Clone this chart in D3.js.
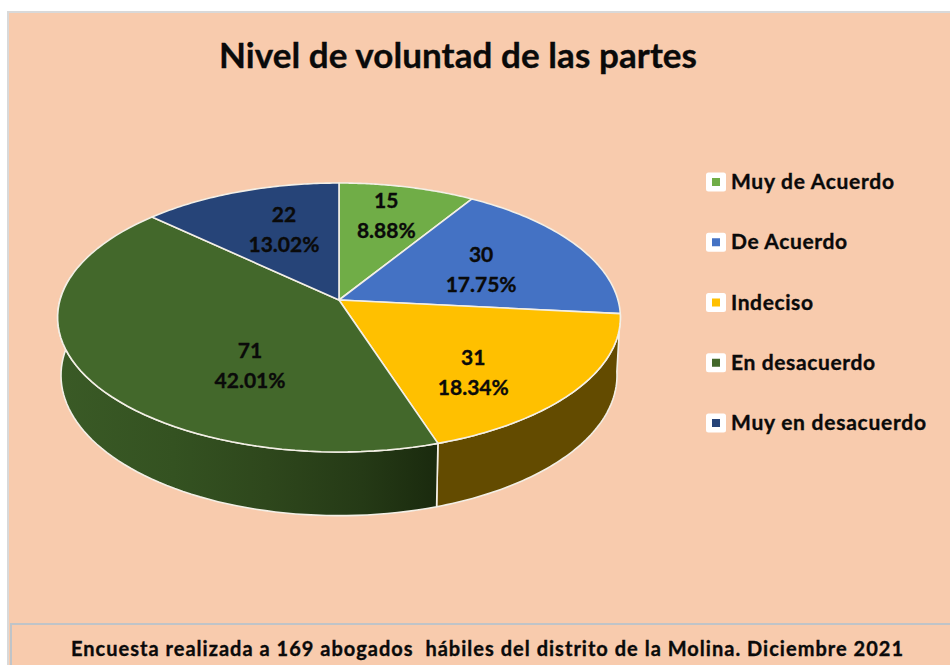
<!DOCTYPE html>
<html><head><meta charset="utf-8">
<script src="https://cdn.jsdelivr.net/npm/d3@7"></script>
<style>html,body{margin:0;padding:0;background:#fff;overflow:hidden}svg{display:block}text{font-family:Lato,"Open Sans",sans-serif;font-weight:700;fill:#0a0a0a;stroke:#0a0a0a;stroke-width:.35px}</style>
</head><body><svg id="c" width="950" height="665"></svg>
<script>
const categories = ["Muy de Acuerdo","De Acuerdo","Indeciso","En desacuerdo","Muy en desacuerdo"];
const values = [15,30,31,71,22];
const percentLabels = ["8.88%","17.75%","18.34%","42.01%","13.02%"];
const topColors = ["#70AD47","#4472C4","#FFC000","#43682B","#264478"];
const titleText = "Nivel de voluntad de las partes";
const noteText = "Encuesta realizada a 169 abogados  hábiles del distrito de la Molina. Diciembre 2021";
// label placement: offset from the slice's mid-angle (deg), fraction of the radius
const labelAngleOffset = [-1,2,10,-25,3];
const labelRadius = [0.715,0.575,0.683,0.557,0.607];

const svg = d3.select("#c");
const W=950,H=665;
const BG="#F8CBAD", EDGE="#f3efe6";

// projection of a tilted disc: u right, v away from viewer, z depth below the top face
const P={x0:339,y0:300,B:279,A:132.2,k:0.13,m:0.012,D:58};
function proj(a,r,z){
  const u=r*Math.sin(a), v=r*Math.cos(a), den=1+P.k*v+P.m*z;
  return [P.x0+P.B*u/den, P.y0-(P.A*v-P.D*z)/den];
}
const rim=(a0,a1,z)=>d3.range(0,65).map(i=>proj(a0+(a1-a0)*i/64,1,z));
const line=d3.line();

// frame
svg.append("rect").attr("x",8).attr("y",12).attr("width",W).attr("height",H).attr("fill",BG).attr("stroke","#d9d9d9").attr("stroke-width",2);

const defs=svg.append("defs");
const g=defs.append("linearGradient").attr("id","wallG").attr("gradientUnits","userSpaceOnUse").attr("x1",60).attr("x2",437).attr("y1",0).attr("y2",0);
[[0,"#3a5a26"],[0.3,"#345221"],[0.55,"#2e471c"],[0.8,"#253a16"],[1,"#1a2a0e"]].forEach(s=>g.append("stop").attr("offset",s[0]).attr("stop-color",s[1]));

const pie=d3.pie().sort(null).startAngle(0).endAngle(2*Math.PI);
const arcs=pie(values);

// walls: only the front part of the disc shows
const wallFill={2:"#634B00",3:"url(#wallG)"};
[2,3].forEach(i=>{
  const a=arcs[i], a0=a.startAngle, a1=Math.min(a.endAngle,Math.PI*1.56);
  const pts=rim(a0,a1,0).concat(rim(a0,a1,1).reverse());
  svg.append("path").attr("d",line(pts)+"Z").attr("fill",wallFill[i]).attr("stroke",EDGE).attr("stroke-width",1.6).attr("stroke-linejoin","round");
});

// top face
arcs.forEach((a,i)=>{
  const pts=[proj(0,0,0)].concat(rim(a.startAngle,a.endAngle,0));
  svg.append("path").attr("d",line(pts)+"Z").attr("fill",topColors[i]).attr("stroke",EDGE).attr("stroke-width",1.6).attr("stroke-linejoin","round");
});

// data labels
arcs.forEach((a,i)=>{
  const mid=(a.startAngle+a.endAngle)/2+labelAngleOffset[i]*Math.PI/180;
  const [x,y]=proj(mid,labelRadius[i],0);
  svg.append("text").attr("x",x).attr("y",y-8).attr("text-anchor","middle").attr("font-size",21).text(a.data);
  svg.append("text").attr("x",x).attr("y",y+22).attr("text-anchor","middle").attr("font-size",21).text(percentLabels[i]);
});

// title
svg.append("text").attr("x",219).attr("y",68).attr("font-size",35).attr("textLength",478).text(titleText);

// legend
const legY=d3.scalePoint().domain(categories).range([182,423]);
const legWidth=[163,116,82,144,195];
categories.forEach((c,i)=>{
  const y=legY(c);
  svg.append("rect").attr("x",706).attr("y",y-9.5).attr("width",20).attr("height",19).attr("rx",2.5).attr("fill","#fff");
  svg.append("rect").attr("x",712).attr("y",y-4).attr("width",8).attr("height",8).attr("fill",topColors[i]);
  svg.append("text").attr("x",731).attr("y",y+7).attr("font-size",21).attr("textLength",legWidth[i]).text(c);
});

// note box
svg.append("rect").attr("x",11).attr("y",624).attr("width",W).attr("height",H).attr("fill",BG).attr("stroke","#c0c4c8").attr("stroke-width",2);
svg.append("text").attr("x",71).attr("y",656).attr("font-size",20).attr("textLength",832).attr("xml:space","preserve").style("white-space","pre").text(noteText);
</script></body></html>
